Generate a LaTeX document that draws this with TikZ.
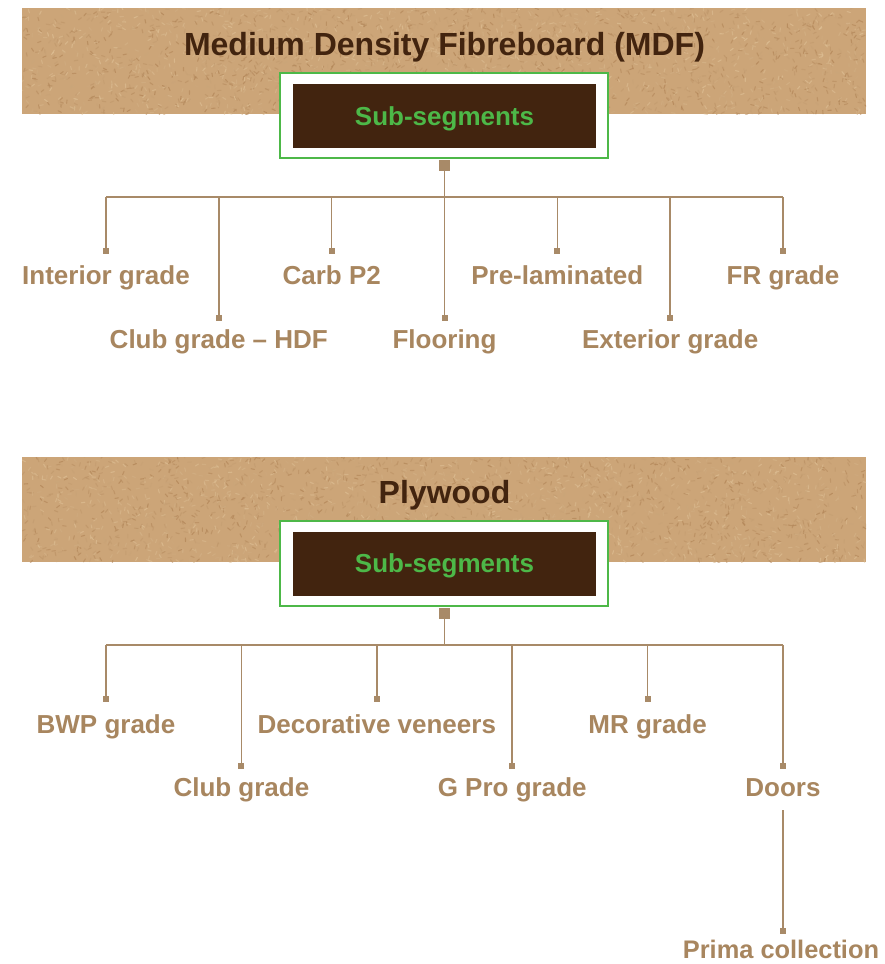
\documentclass[tikz,border=0pt]{standalone}
\usepackage{fontspec}
\setmainfont{Liberation Sans}
\definecolor{bannerbase}{HTML}{CCA578}
\definecolor{specdark}{HTML}{A97A4C}
\definecolor{speclight}{HTML}{E3C69C}
\definecolor{darkbrown}{HTML}{42240F}
\definecolor{segreen}{HTML}{4DB848}
\definecolor{tanline}{HTML}{A88A68}
\definecolor{tantext}{HTML}{A8865F}
\tikzset{
  lbl/.style={font=\bfseries\fontsize{26}{30}\selectfont, text=tantext, inner sep=0pt, anchor=base},
  lblsm/.style={lbl, font=\bfseries\fontsize{25.4}{30}\selectfont},
  ttl/.style={font=\bfseries\fontsize{32}{36}\selectfont, text=darkbrown, inner sep=0pt, anchor=base},
  sub/.style={font=\bfseries\fontsize{26}{30}\selectfont, text=segreen, inner sep=0pt, anchor=base},
  sq/.style={fill=tanline, inner sep=0pt, minimum size=6, draw=none},
  hubsq/.style={fill=tanline, inner sep=0pt, minimum size=11, draw=none},
  conn/.style={draw=tanline, line width=1.5},
  outerbox/.style={draw=segreen, line width=2.2, fill=white},
  innerbox/.style={fill=darkbrown},
}
\newcommand\texturebanner[4]{%
  \fill[bannerbase] (#1,#2) rectangle (#3,#4);
  \begin{scope}
    \clip (#1,#2) rectangle (#3,#4);
    \foreach \k in {1,...,2600}{
      \pgfmathsetmacro\xa{#1+(#3-#1)*rnd}
      \pgfmathsetmacro\ya{#2+(#4-#2)*rnd}
      \pgfmathsetmacro\an{360*rnd}
      \pgfmathtruncatemacro\pct{100*rnd}
      \draw[color=specdark!\pct!speclight, line width=1.1, opacity=0.55, line cap=round] (\xa,\ya) -- ++(\an:3.5);
    }
  \end{scope}}
\begin{document}
\begin{tikzpicture}[x=1pt,y=-1pt]
\pgfmathsetseed{7}
\useasboundingbox (0,0) rectangle (884,964);
\fill[white] (0,0) rectangle (884,964);

% ---------------- MDF ----------------
\texturebanner{22}{8}{866}{114}
\node[ttl] (mdftitle) at (444.5,55.5) {Medium Density Fibreboard (MDF)};
\fill[outerbox] (280,73) rectangle (608,158);
\draw[outerbox] (280,73) rectangle (608,158);
\fill[innerbox] (293,84) rectangle (596,148);
\node[sub] (mdfsub) at (444.5,125.5) {Sub-segments};
\node[hubsq] (mhub) at (444.5,165.5) {};
\coordinate (mbus) at (444.5,197);
\coordinate (mbusL) at (106,197);
\coordinate (mbusR) at (783,197);
\draw[conn] (mhub.south) -- (mbus);
\draw[conn] (mbusL) -- (mbusR);

\foreach \nm/\xx/\row/\txt in {
  m1/106/0/Interior grade,
  m2/218.8/1/Club grade -- HDF,
  m3/331.7/0/Carb P2,
  m4/444.5/1/Flooring,
  m5/557.3/0/Pre-laminated,
  m6/670.2/1/Exterior grade,
  m7/783/0/FR grade}{
  \pgfmathsetmacro\sqy{\row==0 ? 251 : 318}
  \pgfmathsetmacro\bly{\row==0 ? 284 : 348}
  \coordinate (\nm b) at (\xx,197);
  \node[sq] (\nm s) at (\xx,\sqy) {};
  \draw[conn] (\nm b) -- (\nm s);
  \node[lbl] (\nm) at (\xx,\bly) {\txt};
}

% ---------------- Plywood ----------------
\texturebanner{22}{457}{866}{562}
\node[ttl] (plytitle) at (444.5,503.5) {Plywood};
\fill[outerbox] (280,521) rectangle (608,606);
\draw[outerbox] (280,521) rectangle (608,606);
\fill[innerbox] (293,532) rectangle (596,596);
\node[sub] (plysub) at (444.5,572.5) {Sub-segments};
\node[hubsq] (phub) at (444.5,613.5) {};
\coordinate (pbus) at (444.5,645);
\coordinate (pbusL) at (106,645);
\coordinate (pbusR) at (783,645);
\draw[conn] (phub.south) -- (pbus);
\draw[conn] (pbusL) -- (pbusR);

\foreach \nm/\xx/\row/\txt in {
  p1/106/0/BWP grade,
  p2/241.4/1/Club grade,
  p3/376.8/0/Decorative veneers,
  p4/512.2/1/G Pro grade,
  p5/647.6/0/MR grade,
  p6/783/1/Doors}{
  \pgfmathsetmacro\sqy{\row==0 ? 699 : 766}
  \pgfmathsetmacro\bly{\row==0 ? 733 : 796}
  \coordinate (\nm b) at (\xx,645);
  \node[sq] (\nm s) at (\xx,\sqy) {};
  \draw[conn] (\nm b) -- (\nm s);
  \node[lbl] (\nm) at (\xx,\bly) {\txt};
}
\coordinate (doorsout) at (783,810);
\node[sq] (primas) at (783,931) {};
\draw[conn] (doorsout) -- (primas);
\node[lblsm] (prima) at (781,958.5) {Prima collection};
\end{tikzpicture}
\end{document}
